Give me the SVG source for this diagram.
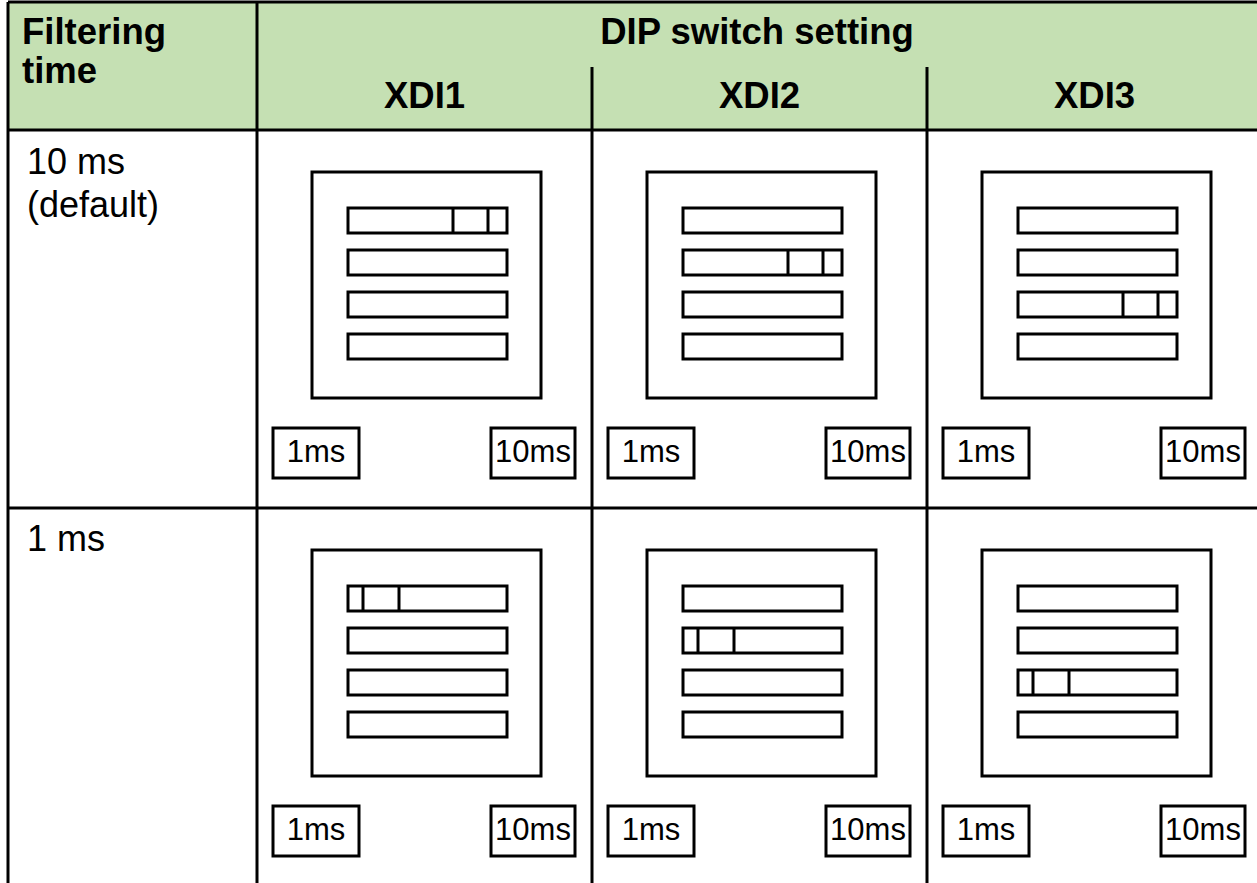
<svg xmlns="http://www.w3.org/2000/svg" xmlns:xlink="http://www.w3.org/1999/xlink" width="1257" height="883" viewBox="0 0 1257 883">
<style>
.ln{stroke:#000;stroke-width:3;fill:none}
.hdr{font-family:"Liberation Sans",Arial,sans-serif;font-weight:bold;font-size:36.5px;fill:#000}
.row{font-family:"Liberation Sans",Arial,sans-serif;font-size:36px;fill:#000}
.lbl{font-family:"Liberation Sans",Arial,sans-serif;font-size:31px;fill:#000;text-anchor:middle}
.box{stroke:#000;stroke-width:3;fill:#fff}
</style>
<defs>
<g id="sw">
<rect class="box" x="55" y="42" width="229" height="226"/>
<rect class="box" x="91" y="78" width="159" height="25"/>
<rect class="box" x="91" y="120" width="159" height="25"/>
<rect class="box" x="91" y="162" width="159" height="25"/>
<rect class="box" x="91" y="204" width="159" height="25"/>
<rect class="box" x="16" y="298" width="86" height="50"/>
<rect class="box" x="234" y="298" width="84" height="50"/>
<text class="lbl" x="59" y="332">1ms</text>
<text class="lbl" x="276" y="332">10ms</text>
</g>
<path id="on" class="ln" d="M196,0V25M231,0V25"/>
<path id="off" class="ln" d="M106,0V25M142,0V25"/>
</defs>
<rect x="0" y="0" width="1257" height="883" fill="#fff"/>
<g id="header">
<rect x="8" y="2" width="1260" height="128" fill="#C5E0B3"/>
<text class="hdr" x="22" y="44">Filtering</text>
<text class="hdr" x="22" y="83">time</text>
<text class="hdr" x="757" y="44" text-anchor="middle">DIP switch setting</text>
<text class="hdr" x="424.5" y="108" text-anchor="middle">XDI1</text>
<text class="hdr" x="759.5" y="108" text-anchor="middle">XDI2</text>
<text class="hdr" x="1094.5" y="108" text-anchor="middle">XDI3</text>
</g>
<g id="grid">
<path class="ln" d="M8,2H1257M8,130H1257M8,508H1257M8,2V883M257,2V883M592,67V883M927,67V883"/>
</g>
<g id="row-labels">
<text class="row" x="27" y="174">10 ms</text>
<text class="row" x="27" y="217">(default)</text>
<text class="row" x="27" y="551">1 ms</text>
</g>
<g id="r1-xdi1" transform="translate(257,130)"><use xlink:href="#sw"/><use xlink:href="#on" transform="translate(0,78)"/></g>
<g id="r1-xdi2" transform="translate(592,130)"><use xlink:href="#sw"/><use xlink:href="#on" transform="translate(0,120)"/></g>
<g id="r1-xdi3" transform="translate(927,130)"><use xlink:href="#sw"/><use xlink:href="#on" transform="translate(0,162)"/></g>
<g id="r2-xdi1" transform="translate(257,508)"><use xlink:href="#sw"/><use xlink:href="#off" transform="translate(0,78)"/></g>
<g id="r2-xdi2" transform="translate(592,508)"><use xlink:href="#sw"/><use xlink:href="#off" transform="translate(0,120)"/></g>
<g id="r2-xdi3" transform="translate(927,508)"><use xlink:href="#sw"/><use xlink:href="#off" transform="translate(0,162)"/></g>
</svg>
